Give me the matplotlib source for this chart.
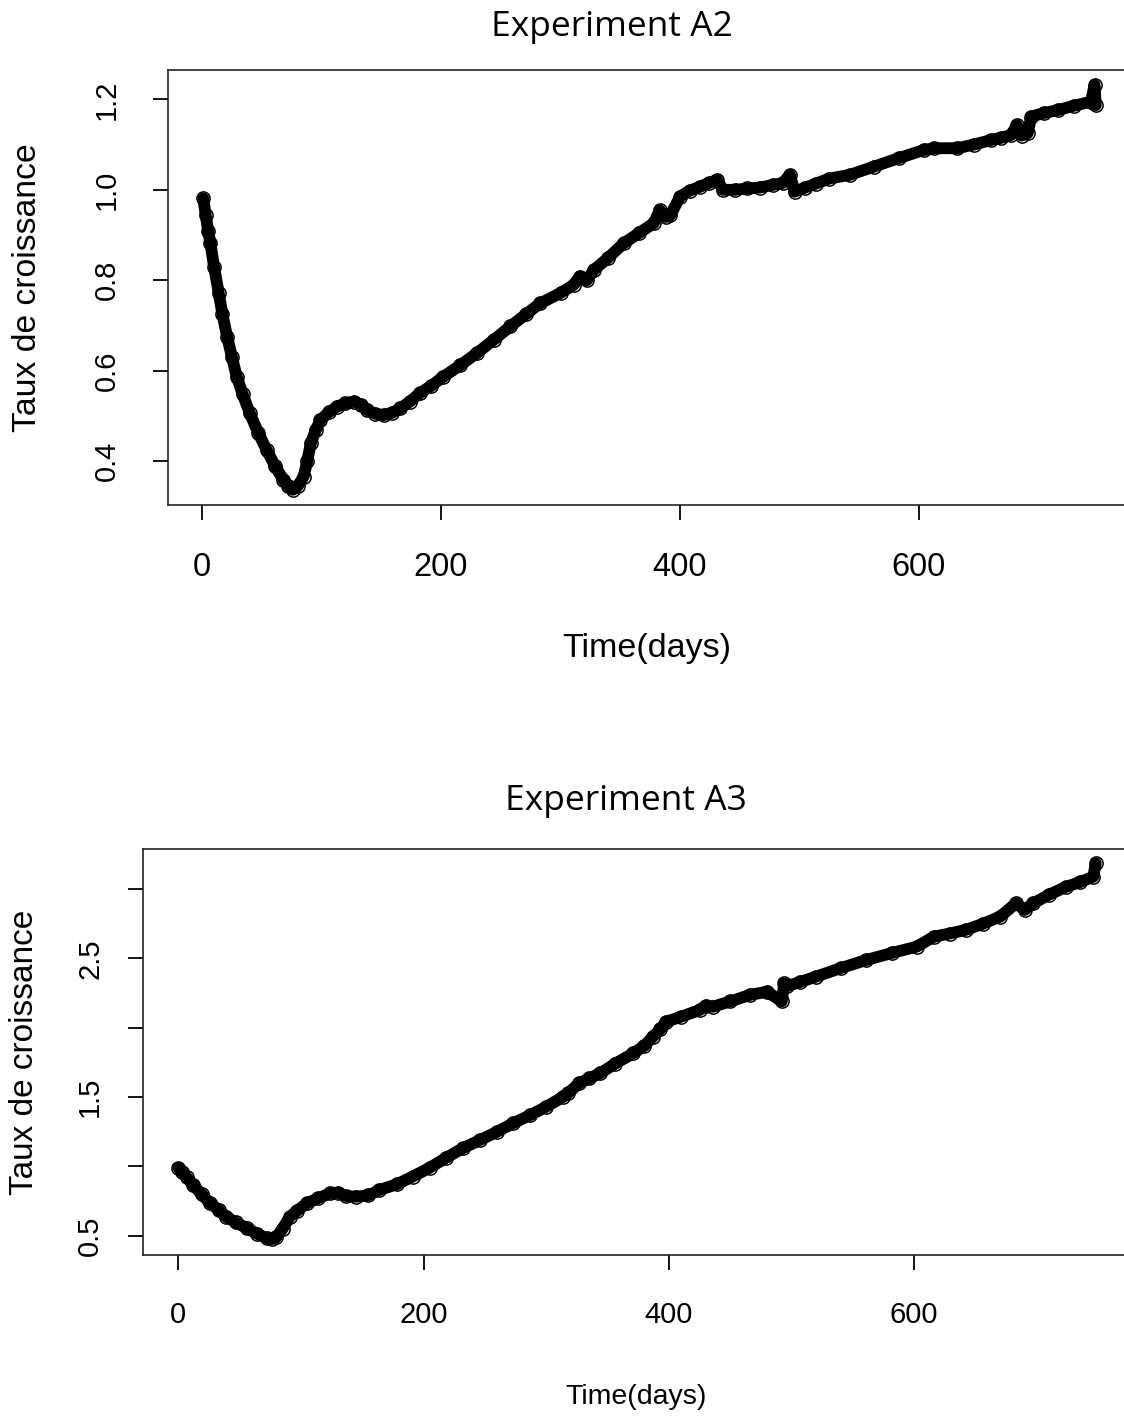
import numpy as np
import matplotlib
matplotlib.use("Agg")
import matplotlib.pyplot as plt

# Experiment A2
days_a2 = [1, 3, 5, 7, 10, 14, 17, 21, 25, 29, 34, 40, 47, 54, 61, 68, 72, 76,
           80, 85, 88, 91, 95, 99, 106, 113, 120, 127, 133, 138, 145, 152, 159,
           166, 174, 182, 192, 202, 216, 230, 244, 258, 271, 283, 300, 311, 316,
           322, 328, 340, 353, 366, 378, 383, 388, 392, 400, 408, 417, 424, 431,
           436, 446, 456, 467, 478, 486, 492, 496, 505, 514, 525, 542, 562, 583,
           604, 613, 632, 646, 660, 669, 677, 682, 686, 691, 694, 705, 716, 730,
           744, 747, 748]
taux_a2 = [0.981, 0.945, 0.91, 0.882, 0.83, 0.771, 0.725, 0.675, 0.63, 0.587,
           0.548, 0.506, 0.463, 0.425, 0.39, 0.359, 0.345, 0.337, 0.345, 0.366,
           0.40, 0.44, 0.468, 0.491, 0.508, 0.521, 0.528, 0.532, 0.525, 0.513,
           0.505, 0.502, 0.507, 0.517, 0.532, 0.550, 0.567, 0.587, 0.612, 0.639,
           0.668, 0.698, 0.725, 0.749, 0.772, 0.79, 0.808, 0.80, 0.823, 0.85,
           0.882, 0.905, 0.926, 0.955, 0.94, 0.944, 0.985, 0.998, 1.007, 1.015,
           1.022, 1.0, 1.0, 1.003, 1.005, 1.011, 1.015, 1.033, 0.996, 1.005,
           1.014, 1.025, 1.033, 1.051, 1.07, 1.088, 1.092, 1.092, 1.10, 1.110,
           1.115, 1.121, 1.143, 1.12, 1.125, 1.162, 1.17, 1.176, 1.186, 1.195,
           1.232, 1.187]

# Experiment A3
days_a3 = [0, 3, 7, 12, 19, 26, 33, 39, 47, 56, 64, 72, 76, 80, 85, 91, 97, 105,
           114, 124, 130, 137, 145, 155, 164, 178, 191, 205, 218, 232, 246, 260,
           273, 287, 300, 314, 318, 327, 335, 344, 356, 371, 380, 387, 393, 398,
           410, 425, 430, 436, 450, 466, 480, 492, 494, 496, 507, 520, 540, 561,
           582, 602, 616, 629, 642, 656, 670, 683, 690, 697, 710, 724, 735, 746,
           748]
taux_a3 = [0.99, 0.96, 0.92, 0.866, 0.80, 0.734, 0.685, 0.637, 0.595, 0.553,
           0.515, 0.481, 0.475, 0.49, 0.55, 0.637, 0.68, 0.734, 0.77, 0.806,
           0.81, 0.785, 0.781, 0.79, 0.830, 0.87, 0.926, 0.99, 1.06, 1.131,
           1.19, 1.25, 1.311, 1.37, 1.43, 1.503, 1.53, 1.600, 1.635, 1.672,
           1.74, 1.816, 1.87, 1.936, 1.99, 2.044, 2.08, 2.128, 2.16, 2.152,
           2.19, 2.237, 2.26, 2.19, 2.32, 2.30, 2.33, 2.369, 2.43, 2.489, 2.54,
           2.585, 2.657, 2.68, 2.706, 2.75, 2.802, 2.898, 2.85, 2.898, 2.96,
           3.018, 3.05, 3.09, 3.187]

xticks = [0, 200, 400, 600]
yticks_a2 = [0.4, 0.6, 0.8, 1.0, 1.2]
ylabels_a2 = ['0.4', '0.6', '0.8', '1.0', '1.2']
yticks_a3 = [0.5, 1.0, 1.5, 2.0, 2.5, 3.0]
ylabels_a3 = ['0.5', '', '1.5', '', '2.5', '']

font = 'Liberation Sans'

fig = plt.figure(figsize=(11.24, 14.18), dpi=100, facecolor='w')


def draw(ax, x, y, yt, yl, xtick_fs, ytick_fs, xlab_fs, ylab_fs, xpad, ypad,
         xlab_pos, ylab_pos):
    # dense daily points in the original -> thick band plus open rings
    ax.plot(x, y, '-', color='black', lw=8.5, solid_capstyle='round', zorder=2)
    ax.plot(x, y, 'o', mfc='none', mec='black', ms=9.5, mew=1.1, zorder=3)
    ax.set_xticks(xticks)
    ax.set_xticklabels([str(t) for t in xticks], family=font, fontsize=xtick_fs)
    ax.set_yticks(yt)
    ax.set_yticklabels(yl, family=font, fontsize=ytick_fs)
    for lab in ax.get_yticklabels():
        lab.set_rotation(90)
        lab.set_va('center')
    ax.tick_params(axis='both', direction='out', length=11, width=1.3, color='black')
    ax.tick_params(axis='x', pad=xpad)
    ax.tick_params(axis='y', pad=ypad)
    for sp in ax.spines.values():
        sp.set_linewidth(1.2)
        sp.set_color('#222222')
    ax.set_xlabel('Time(days)', family=font, fontsize=xlab_fs)
    ax.xaxis.label.set_va('center')
    ax.xaxis.set_label_coords(*xlab_pos)
    ax.set_ylabel('Taux de croissance', family=font, fontsize=ylab_fs)
    ax.yaxis.label.set_va('center')
    ax.yaxis.set_label_coords(*ylab_pos)


ax1 = fig.add_axes([0.1495, 0.6439, 0.8594, 0.3067])
ax1.set_xlim(-28.5, 780)
ax1.set_ylim(0.3034, 1.2648)
draw(ax1, days_a2, taux_a2, yticks_a2, ylabels_a2, 23.5, 21, 24.5, 24.3, 23, 23,
     (0.496, -0.331), (-0.145, 0.5))

ax2 = fig.add_axes([0.1272, 0.1150, 0.8826, 0.2863])
ax2.set_xlim(-28.8, 780)
ax2.set_ylim(0.361, 3.29)
draw(ax2, days_a3, taux_a3, yticks_a3, ylabels_a3, 21, 21, 20.5, 24, 22, 17,
     (0.497, -0.350), (-0.119, 0.5))

fig.text(612 / 1124, 1 - 27 / 1418, 'Experiment A2', family='Open Sans',
         fontsize=25.5, ha='center', va='center')
fig.text(626 / 1124, 1 - 801 / 1418, 'Experiment A3', family='Open Sans',
         fontsize=25.5, ha='center', va='center')

fig.savefig('out.png', dpi=100)
